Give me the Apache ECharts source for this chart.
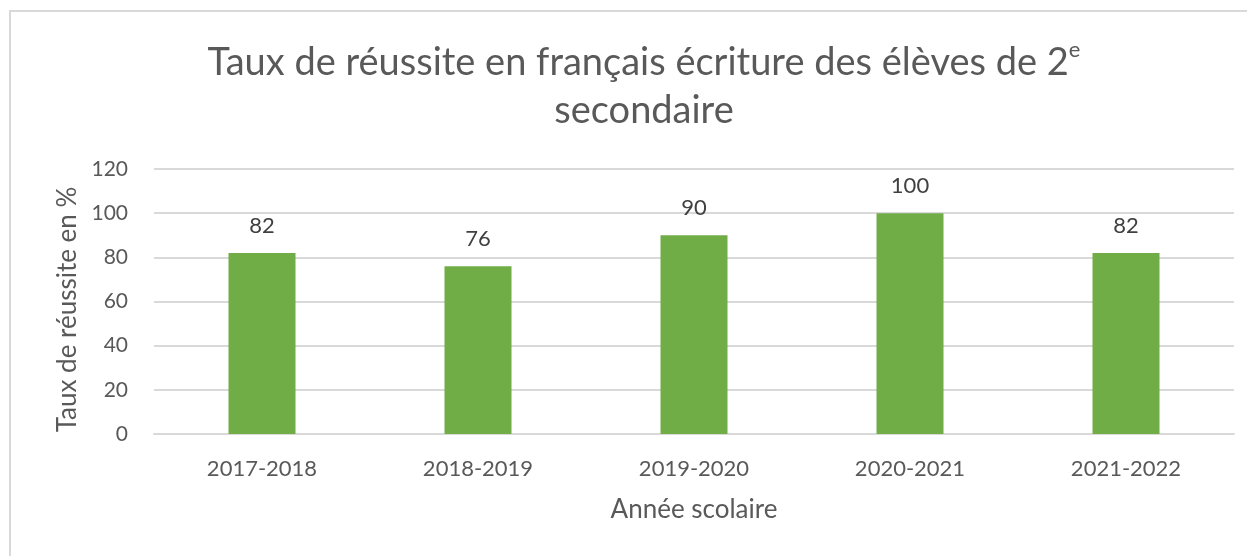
<!DOCTYPE html>
<html>
<head>
<meta charset="utf-8">
<script src="https://cdn.jsdelivr.net/npm/echarts@6/dist/echarts.min.js"></script>
<style>
  html, body { margin: 0; padding: 0; background: #fff; }
  #chart { width: 1247px; height: 556px; }
</style>
</head>
<body>
<div id="chart"></div>
<script>
const years = ['2017-2018', '2018-2019', '2019-2020', '2020-2021', '2021-2022']
const successRates = [82, 76, 90, 100, 82]
const yTicks = { min: 0, max: 120, interval: 20 }

const FONT = 'Lato, "Open Sans", sans-serif'
const TEXT = '#595959'

const chart = echarts.init(document.getElementById('chart'))

chart.setOption({
  backgroundColor: '#fff',
  animation: false,
  graphic: [
    {
      type: 'rect',
      shape: { x: 10, y: 11, width: 1400, height: 700 },
      style: { fill: 'none', stroke: '#d9d9d9', lineWidth: 2 },
      silent: true
    }
  ],
  title: {
    text: 'Taux de réussite en français écriture des élèves de 2{sup|e}\nsecondaire',
    left: 639,
    textAlign: 'center',
    top: 34,
    textStyle: {
      fontFamily: FONT,
      fontSize: 38,
      fontWeight: 'normal',
      color: TEXT,
      lineHeight: 48,
      rich: {
        sup: { fontFamily: FONT, fontSize: 22, color: TEXT, verticalAlign: 'top', lineHeight: 48 }
      }
    }
  },
  grid: { left: 154, right: 13, top: 169, bottom: 122 },
  xAxis: {
    type: 'category',
    data: years,
    name: 'Année scolaire',
    nameLocation: 'middle',
    nameGap: 63,
    nameTextStyle: { fontFamily: FONT, fontSize: 26, color: TEXT },
    axisLine: { lineStyle: { color: '#d9d9d9', width: 2 } },
    axisTick: { show: false },
    axisLabel: { fontFamily: FONT, fontSize: 22, color: TEXT, margin: 24 }
  },
  yAxis: {
    type: 'value',
    min: yTicks.min,
    max: yTicks.max,
    interval: yTicks.interval,
    name: 'Taux de réussite en %',
    nameLocation: 'middle',
    nameGap: 73,
    nameTextStyle: { fontFamily: FONT, fontSize: 26, color: TEXT, padding: [0, 16, 0, 0] },
    axisLine: { show: false },
    axisTick: { show: false },
    axisLabel: { fontFamily: FONT, fontSize: 21, color: TEXT, margin: 26 },
    splitLine: { lineStyle: { color: '#d9d9d9', width: 2 } }
  },
  series: [
    {
      type: 'bar',
      data: successRates,
      barWidth: 67,
      itemStyle: { color: '#70ad47' },
      label: {
        show: true,
        position: 'top',
        distance: 16,
        fontFamily: FONT,
        fontSize: 22,
        color: '#404040'
      }
    }
  ]
})
</script>
</body>
</html>
